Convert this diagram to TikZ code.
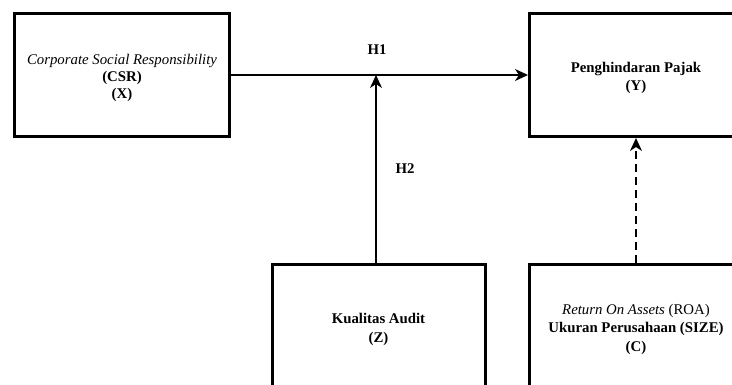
\documentclass[tikz,border=0pt]{standalone}
\usepackage{fontspec}
\setmainfont{Liberation Serif}
\usetikzlibrary{arrows.meta}
\newcommand{\isi}[1]{\raisebox{-3pt}[\height][\depth]{\begin{tabular}{@{}c@{}}#1\end{tabular}}}
\begin{document}
\begin{tikzpicture}[x=1pt, y=-1pt,
	kotak/.style={draw, line width=3pt, minimum width=213pt, minimum height=123pt, inner sep=0pt, font=\fontsize{14.8}{18.5}\selectfont},
	panah/.style={line width=2pt, -{Stealth[length=13pt, width=12pt, inset=4pt]}},
	label/.style={font=\fontsize{14.8}{18}\selectfont\bfseries}]
	\useasboundingbox (0, 0) rectangle (732, 385);
	\clip (0, 0) rectangle (732, 385);
	% Variabel
	\node[kotak, minimum width=215pt] (csr) at (122, 75) {\renewcommand{\arraystretch}{0.93}\isi{\textit{Corporate Social Responsibility}\\\textbf{(CSR)}\\\textbf{(X)}}};
	\node[kotak] (pajak) at (636, 75) {\isi{\textbf{Penghindaran Pajak}\\\textbf{(Y)}}};
	\node[kotak] (audit) at (378.5, 326.5) {\isi{\textbf{Kualitas Audit}\\\textbf{(Z)}}};
	\node[kotak] (kontrol) at (636, 326) {\isi{\textit{Return On Assets} (ROA)\\\textbf{Ukuran Perusahaan (SIZE)}\\\textbf{(C)}}};
	% Hipotesis
	\coordinate (temu) at (376, 75);
	\draw[panah] (csr.east) -- (pajak.west);
	\draw[panah] (audit.north -| temu) -- (temu);
	\draw[panah, dash pattern=on 8pt off 5pt] (kontrol.north) -- (pajak.south);
	\node[label] (h1) at (377, 50) {H1};
	\node[label] (h2) at (405, 169) {H2};
\end{tikzpicture}
\end{document}
